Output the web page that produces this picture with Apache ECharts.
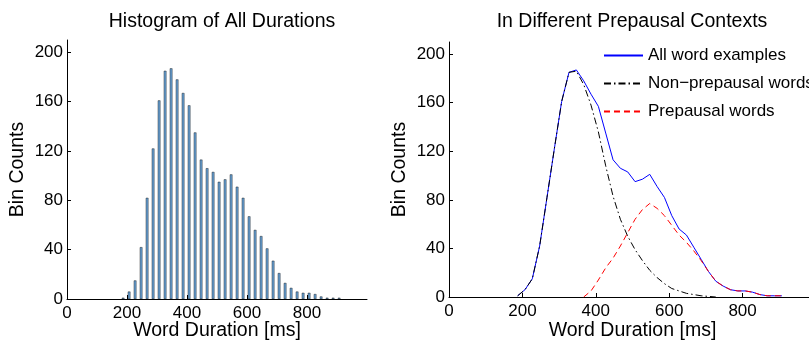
<!DOCTYPE html>
<html>
<head>
<meta charset="utf-8">
<script src="https://cdn.jsdelivr.net/npm/echarts@6/dist/echarts.min.js"></script>
<style>
  html, body { margin: 0; padding: 0; background: #fff; }
  #chart { width: 809px; height: 341px; }
</style>
</head>
<body>
<div id="chart"></div>
<script>
// Bin centres of the 20 ms duration bins (ms)
const binCenters = [187, 207, 227, 247, 267, 287, 307, 327, 347, 367,
  387, 407, 427, 447, 467, 487, 507, 527, 547, 567,
  587, 607, 627, 647, 667, 687, 707, 727, 747, 767,
  787, 807, 827, 847, 867, 887, 907];

// Counts per bin, all words
const allCounts = [1, 6, 15, 42, 82, 122, 161, 185, 187, 178,
  167, 157, 135, 113, 106, 103, 95, 97, 101, 91,
  82, 67, 56, 51, 41, 31, 21, 13, 9, 6,
  5, 5, 4, 2, 1, 1, 1];

// Non-prepausal words, bins 187..727
const nonPrepausalCounts = [1, 6, 15, 42, 82, 122, 161, 185, 186, 175,
  158, 136, 108, 83, 64, 50, 39, 30, 22, 16,
  11, 7, 5, 3, 2, 1, 0.5, 0];

// Prepausal words, bins 367..907
const prepausalCounts = [0, 5, 14, 24, 32, 42, 53, 64, 72, 77,
  73, 67, 59, 51, 45, 38, 30, 21, 13, 9,
  6, 5, 5, 4, 2, 1, 1, 1];

const xTicks = [0, 200, 400, 600, 800];
const yTicks = [0, 40, 80, 120, 160, 200];

const seriesNames = ['All word examples', 'Non\u2212prepausal words', 'Prepausal words'];
const titles = ['Histogram of All Durations', 'In Different Prepausal Contexts'];

const FONT = 'Liberation Sans, Arial, sans-serif';
const TICK_SIZE = 17;
const LABEL_SIZE = 19.5;

function pairs(xs, ys) { return ys.map((v, i) => [xs[i], v]); }

function xAxis(gridIndex, nameGap) {
  return {
    type: 'value', gridIndex, min: 0, max: 1000,
    name: 'Word Duration [ms]', nameLocation: 'middle', nameGap, nameMoveOverlap: false,
    nameTextStyle: { fontFamily: FONT, fontSize: LABEL_SIZE, color: '#000' },
    axisLine: { show: true, onZero: false, lineStyle: { color: '#000', width: 1 } },
    axisTick: { show: true, inside: true, length: 4, customValues: xTicks, lineStyle: { color: '#000' } },
    axisLabel: { customValues: xTicks, margin: 6, fontFamily: FONT, fontSize: TICK_SIZE, color: '#000' },
    splitLine: { show: false }
  };
}
function yAxis(gridIndex) {
  return {
    type: 'value', gridIndex, min: 0, max: 210,
    name: 'Bin Counts', nameLocation: 'middle', nameGap: 39, nameMoveOverlap: false,
    nameTextStyle: { fontFamily: FONT, fontSize: LABEL_SIZE, color: '#000' },
    axisLine: { show: true, lineStyle: { color: '#000', width: 1 } },
    axisTick: { show: true, inside: true, length: 4, customValues: yTicks, lineStyle: { color: '#000' } },
    axisLabel: { customValues: yTicks, margin: 4, fontFamily: FONT, fontSize: TICK_SIZE, color: '#000' },
    splitLine: { show: false }
  };
}

const chart = echarts.init(document.getElementById('chart'), null, { renderer: 'canvas' });
chart.setOption({
  animation: false,
  backgroundColor: '#fff',
  title: [
    { text: titles[0], left: 217, top: 7, textAlign: 'center',
      textStyle: { fontFamily: FONT, fontSize: LABEL_SIZE, fontWeight: 'normal', color: '#000' } },
    { text: titles[1], left: 627, top: 7, textAlign: 'center',
      textStyle: { fontFamily: FONT, fontSize: LABEL_SIZE, fontWeight: 'normal', color: '#000' } }
  ],
  grid: [
    { left: 67, top: 40, width: 300, bottom: 42, outerBoundsMode: 'none', containLabel: false },
    { left: 449, top: 42, width: 367, bottom: 44, outerBoundsMode: 'none', containLabel: false }
  ],
  xAxis: [xAxis(0, 22), xAxis(1, 24)],
  yAxis: [yAxis(0), yAxis(1)],
  legend: {
    data: seriesNames,
    orient: 'vertical', left: 598, top: 42,
    itemWidth: 39, itemHeight: 14, itemGap: 11,
    itemStyle: { opacity: 0 },
    textStyle: { fontFamily: FONT, fontSize: TICK_SIZE, color: '#000' }
  },
  series: [
    {
      type: 'bar', xAxisIndex: 0, yAxisIndex: 0,
      data: pairs(binCenters, allCounts),
      barWidth: 2.6,
      itemStyle: { color: '#6aa2d4', borderColor: '#000', borderWidth: 0.4 }
    },
    {
      name: seriesNames[0], type: 'line', xAxisIndex: 1, yAxisIndex: 1,
      data: pairs(binCenters, allCounts), symbol: 'none',
      lineStyle: { color: '#0000ff', width: 1 }, itemStyle: { color: '#0000ff' }
    },
    {
      name: seriesNames[1], type: 'line', xAxisIndex: 1, yAxisIndex: 1,
      data: pairs(binCenters, nonPrepausalCounts), symbol: 'none',
      lineStyle: { color: '#000', width: 1, type: [7, 3, 1.5, 3] }, itemStyle: { color: '#000' }
    },
    {
      name: seriesNames[2], type: 'line', xAxisIndex: 1, yAxisIndex: 1,
      data: pairs(binCenters.slice(9), prepausalCounts), symbol: 'none',
      lineStyle: { color: '#ff0000', width: 1, type: [6, 4] }, itemStyle: { color: '#ff0000' }
    }
  ]
});
</script>
</body>
</html>
